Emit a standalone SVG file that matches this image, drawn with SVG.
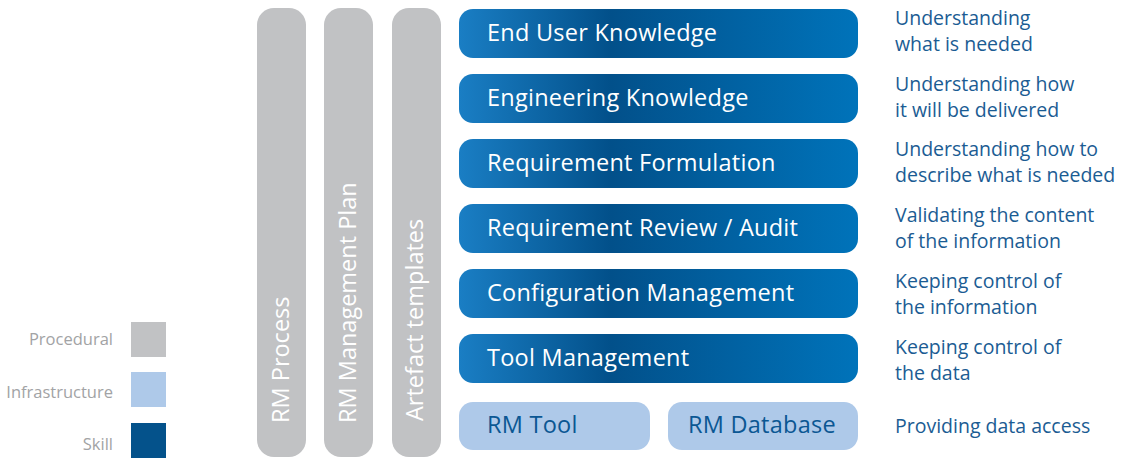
<svg xmlns="http://www.w3.org/2000/svg" width="1128" height="458" viewBox="0 0 1128 458">
<defs>
<linearGradient id="skillGrad" x1="0" y1="0" x2="1" y2="0">
<stop offset="0" stop-color="#1a7ec4"/>
<stop offset="0.38" stop-color="#02508a"/>
<stop offset="1" stop-color="#0073ba"/>
</linearGradient>
<style>
.proc{fill:#c1c2c4}
.skill{fill:url(#skillGrad)}
.infra{fill:#aec9e9}
.vt{font-family:"Open Sans","Liberation Sans",sans-serif;font-size:23.5px;fill:#ffffff}
.bt{font-family:"Open Sans","Liberation Sans",sans-serif;font-size:23.5px;letter-spacing:0.25px;fill:#ffffff}
.it{font-family:"Open Sans","Liberation Sans",sans-serif;font-size:23.5px;letter-spacing:0.25px;fill:#0b5793}
.rt{font-family:"Open Sans","Liberation Sans",sans-serif;font-size:19.5px;fill:#1b5c93}
.lt{font-family:"Open Sans","Liberation Sans",sans-serif;font-size:16.5px;fill:#a2a3a5;text-anchor:end}
</style>
</defs>
<rect width="1128" height="458" fill="#ffffff"/>
<g id="legend">
<text class="lt" x="113" y="345">Procedural</text>
<rect class="proc" x="131" y="322" width="35" height="35"/>
<text class="lt" x="113" y="398">Infrastructure</text>
<rect x="131" y="372" width="35" height="35" fill="#aec9e9"/>
<text class="lt" x="113" y="450">Skill</text>
<rect x="131" y="423" width="35" height="35" fill="#04528b"/>
</g>
<g id="rm-process">
<rect class="proc" x="257" y="8" width="49" height="449" rx="17"/>
<text class="vt" transform="translate(289,423) rotate(-90)">RM Process</text>
</g>
<g id="rm-management-plan">
<rect class="proc" x="324" y="8" width="49" height="449" rx="17"/>
<text class="vt" transform="translate(356,423) rotate(-90)">RM Management Plan</text>
</g>
<g id="artefact-templates">
<rect class="proc" x="392" y="8" width="49" height="449" rx="17"/>
<text class="vt" transform="translate(423,421) rotate(-90)">Artefact templates</text>
</g>
<g id="end-user-knowledge">
<rect class="skill" x="459" y="9" width="399" height="49" rx="14"/>
<text class="bt" x="487" y="41">End User Knowledge</text>
</g>
<g id="engineering-knowledge">
<rect class="skill" x="459" y="74" width="399" height="49" rx="14"/>
<text class="bt" x="487" y="106">Engineering Knowledge</text>
</g>
<g id="requirement-formulation">
<rect class="skill" x="459" y="139" width="399" height="49" rx="14"/>
<text class="bt" x="487" y="171">Requirement Formulation</text>
</g>
<g id="requirement-review">
<rect class="skill" x="459" y="204" width="399" height="49" rx="14"/>
<text class="bt" x="487" y="236">Requirement Review / Audit</text>
</g>
<g id="configuration-management">
<rect class="skill" x="459" y="269" width="399" height="49" rx="14"/>
<text class="bt" x="487" y="301">Configuration Management</text>
</g>
<g id="tool-management">
<rect class="skill" x="459" y="334" width="399" height="49" rx="14"/>
<text class="bt" x="487" y="366">Tool Management</text>
</g>
<g id="rm-tool">
<rect class="infra" x="459" y="402" width="191" height="48" rx="14"/>
<text class="it" x="487" y="433">RM Tool</text>
</g>
<g id="rm-database">
<rect class="infra" x="668" y="402" width="190" height="48" rx="14"/>
<text class="it" x="688" y="433">RM Database</text>
</g>
<g id="descriptions">
<text class="rt" x="895" y="25">Understanding</text>
<text class="rt" x="895" y="51">what is needed</text>
<text class="rt" x="895" y="91">Understanding how</text>
<text class="rt" x="895" y="117">it will be delivered</text>
<text class="rt" x="895" y="156">Understanding how to</text>
<text class="rt" x="895" y="182">describe what is needed</text>
<text class="rt" x="895" y="222">Validating the content</text>
<text class="rt" x="895" y="248">of the information</text>
<text class="rt" x="895" y="288">Keeping control of</text>
<text class="rt" x="895" y="314">the information</text>
<text class="rt" x="895" y="354">Keeping control of</text>
<text class="rt" x="895" y="380">the data</text>
<text class="rt" x="895" y="433">Providing data access</text>
</g>
<g id="connectors"/>
</svg>
